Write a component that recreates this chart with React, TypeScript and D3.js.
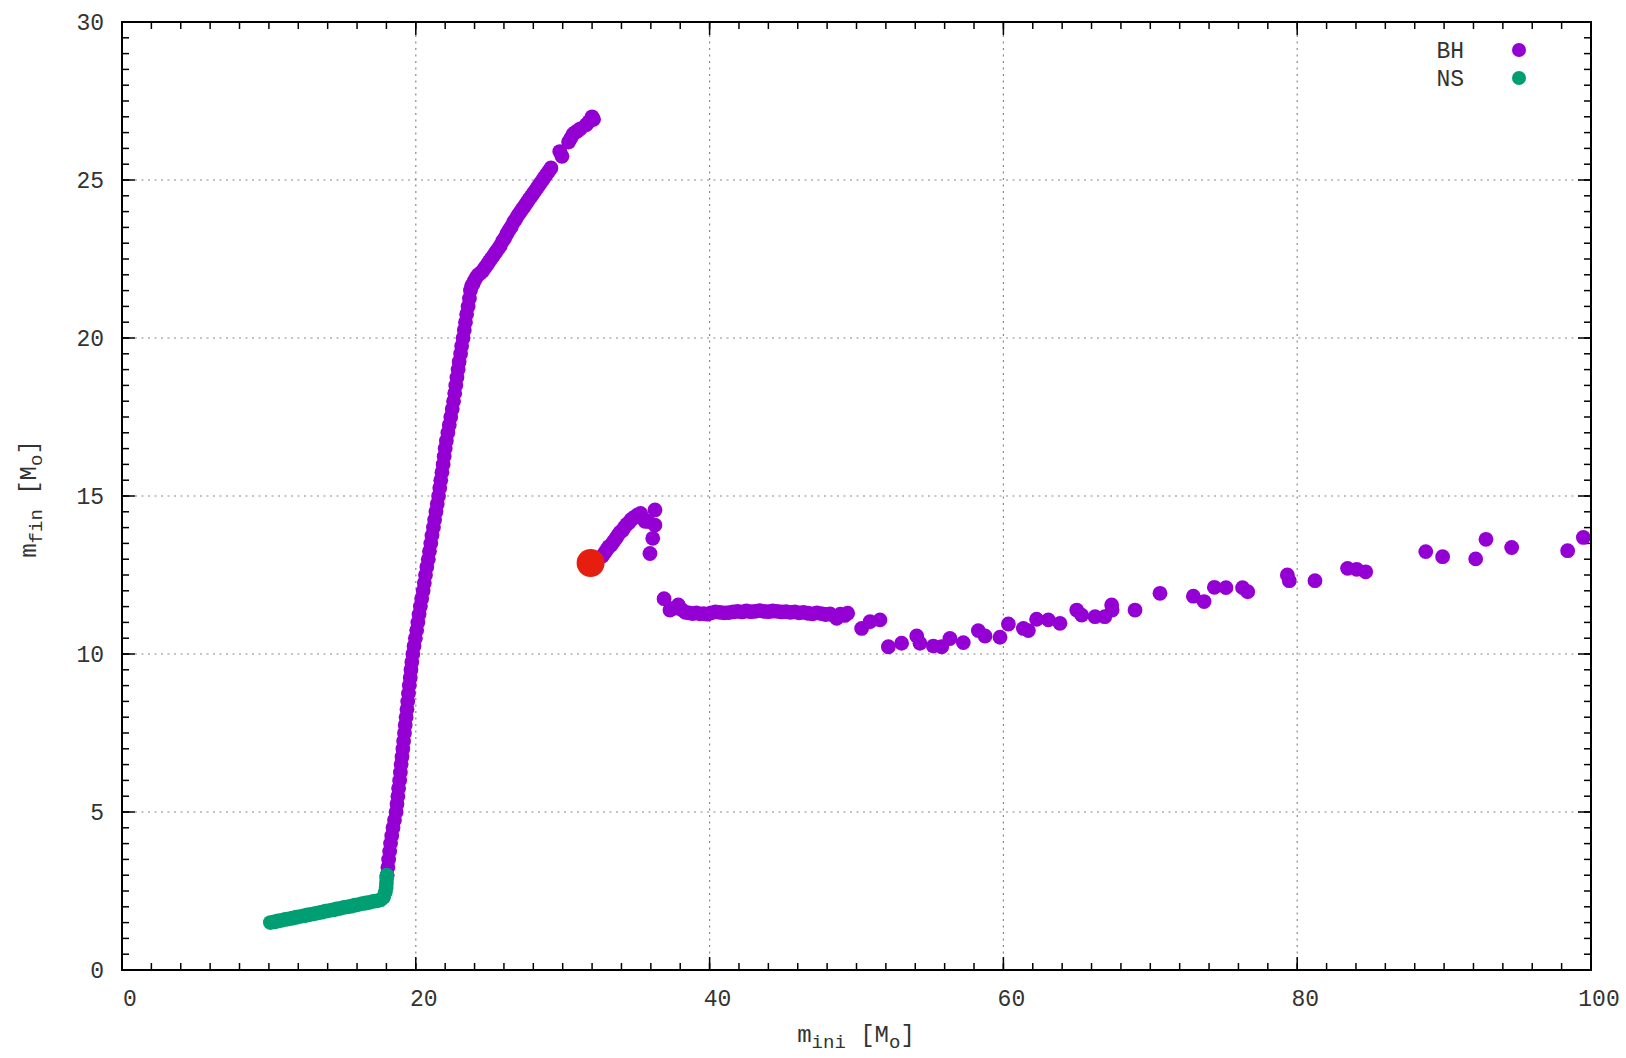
import React from 'react';
import * as d3 from 'd3';

const X_TICKS = [0, 20, 40, 60, 80, 100];
const Y_TICKS = [0, 5, 10, 15, 20, 25, 30];
const X_GRID = [20, 40, 60, 80];
const Y_GRID = [5, 10, 15, 20, 25];
const LEGEND_LABELS = ['BH', 'NS'];

const nsPoints: [number, number][] = [
  [10.1, 1.5], [10.35, 1.52], [10.6, 1.55], [10.85, 1.57], [11.1, 1.6], [11.35, 1.62], [11.6, 1.64],
  [11.85, 1.67], [12.1, 1.69], [12.35, 1.71], [12.6, 1.74], [12.85, 1.76], [13.1, 1.78], [13.35, 1.81],
  [13.6, 1.83], [13.85, 1.86], [14.1, 1.88], [14.35, 1.9], [14.6, 1.93], [14.85, 1.95], [15.1, 1.98],
  [15.35, 2.0], [15.6, 2.02], [15.85, 2.05], [16.1, 2.07], [16.35, 2.1], [16.6, 2.12], [16.85, 2.14],
  [17.1, 2.17], [17.35, 2.19], [17.6, 2.22], [17.8, 2.3], [17.92, 2.45], [17.98, 2.6], [18.0, 2.75],
  [18.02, 2.9], [18.03, 3.0],
];

const bhPoints: [number, number][] = [
  // steep rise
  [18.05, 3.0], [18.1, 3.25], [18.15, 3.5], [18.22, 3.75], [18.28, 4.0], [18.36, 4.25], [18.45, 4.5],
  [18.55, 4.75], [18.66, 5.0], [18.72, 5.25], [18.78, 5.5], [18.83, 5.75], [18.9, 6.0], [18.95, 6.25],
  [19.0, 6.5], [19.06, 6.75], [19.12, 7.0], [19.17, 7.25], [19.23, 7.5], [19.28, 7.75], [19.34, 8.0],
  [19.4, 8.25], [19.45, 8.5], [19.5, 8.75], [19.56, 9.0], [19.62, 9.25], [19.67, 9.5], [19.73, 9.75],
  [19.8, 10.0], [19.88, 10.25], [19.97, 10.5], [20.06, 10.75], [20.14, 11.0], [20.22, 11.25], [20.31, 11.5],
  [20.4, 11.75], [20.5, 12.0], [20.58, 12.25], [20.66, 12.5], [20.75, 12.75], [20.85, 13.0], [20.93, 13.25],
  [21.02, 13.5], [21.1, 13.75], [21.2, 14.0], [21.28, 14.25], [21.37, 14.5], [21.46, 14.75], [21.55, 15.0],
  [21.63, 15.25], [21.7, 15.5], [21.78, 15.75], [21.86, 16.0], [21.93, 16.25], [22.0, 16.5], [22.08, 16.75],
  [22.18, 17.0], [22.28, 17.25], [22.38, 17.5], [22.48, 17.75], [22.57, 18.0], [22.65, 18.25], [22.72, 18.5],
  [22.8, 18.75], [22.88, 19.0], [22.95, 19.25], [23.05, 19.5], [23.12, 19.75], [23.22, 20.0], [23.3, 20.25],
  [23.38, 20.5], [23.46, 20.75], [23.56, 21.0], [23.65, 21.25], [23.72, 21.5], [23.8, 21.65],
  // upper branch
  [23.9, 21.72], [24.0, 21.82], [24.12, 21.92], [24.25, 22.0], [24.4, 22.06], [24.55, 22.12], [24.7, 22.22],
  [24.85, 22.32], [25.0, 22.42], [25.15, 22.52], [25.3, 22.62], [25.45, 22.72], [25.6, 22.82], [25.75, 22.92],
  [25.9, 23.06], [26.05, 23.16], [26.2, 23.3], [26.35, 23.42], [26.5, 23.52], [26.65, 23.66], [26.8, 23.76],
  [26.95, 23.88], [27.1, 23.98], [27.25, 24.08], [27.4, 24.18], [27.55, 24.28], [27.7, 24.38], [27.85, 24.48],
  [28.0, 24.58], [28.15, 24.68], [28.3, 24.78], [28.45, 24.88], [28.6, 24.98], [28.75, 25.08], [28.9, 25.18],
  [29.05, 25.28], [29.2, 25.38],
  [29.8, 25.9], [29.95, 25.75],
  [30.4, 26.2], [30.55, 26.32], [30.7, 26.45], [30.85, 26.5], [31.0, 26.55], [31.2, 26.62], [31.6, 26.75],
  [31.8, 26.85], [32.0, 27.0], [32.1, 26.92],
  // branch near 33-36
  [32.7, 13.1], [32.85, 13.2], [33.0, 13.3], [33.15, 13.4], [33.3, 13.45], [33.45, 13.55], [33.6, 13.65],
  [33.75, 13.75], [33.9, 13.85], [34.05, 13.9], [34.2, 14.0], [34.35, 14.1], [34.5, 14.15], [34.65, 14.25],
  [34.8, 14.3], [34.95, 14.35], [35.1, 14.4], [35.3, 14.45], [35.45, 14.3], [35.6, 14.2], [35.83, 14.19],
  [36.28, 14.56], [36.28, 14.08], [36.13, 13.66], [35.94, 13.18],
  // plateau
  [36.9, 11.75], [37.3, 11.39], [37.6, 11.45], [37.87, 11.55], [38.1, 11.4], [38.35, 11.32], [38.6, 11.3],
  [38.85, 11.28], [39.1, 11.3], [39.35, 11.27], [39.6, 11.28], [39.85, 11.26], [40.1, 11.3], [40.4, 11.33],
  [40.7, 11.32], [41.0, 11.3], [41.3, 11.31], [41.6, 11.33], [41.9, 11.35], [42.2, 11.33], [42.5, 11.36],
  [42.8, 11.34], [43.1, 11.35], [43.4, 11.37], [43.7, 11.35], [44.0, 11.34], [44.3, 11.36], [44.6, 11.35],
  [44.9, 11.33], [45.2, 11.34], [45.5, 11.32], [45.8, 11.33], [46.1, 11.3], [46.4, 11.32], [46.7, 11.29],
  [47.0, 11.27], [47.3, 11.3], [47.6, 11.28], [47.9, 11.25], [48.2, 11.27], [48.5, 11.2], [48.65, 11.13],
  [48.9, 11.26], [49.2, 11.22], [49.4, 11.29],
  // scattered tail
  [50.35, 10.81], [50.92, 11.02], [51.6, 11.08], [52.17, 10.23], [53.07, 10.34], [54.1, 10.57], [54.32, 10.34],
  [55.23, 10.25], [55.8, 10.23], [56.36, 10.49], [57.27, 10.36], [58.29, 10.74], [58.75, 10.57], [59.77, 10.53],
  [60.34, 10.95], [61.36, 10.81], [61.7, 10.74], [62.26, 11.1], [63.06, 11.08], [63.85, 10.97], [64.99, 11.39],
  [65.33, 11.23], [66.24, 11.18], [66.9, 11.18], [67.37, 11.55], [67.4, 11.39], [68.96, 11.39], [70.66, 11.92],
  [72.93, 11.83], [73.66, 11.66], [74.36, 12.11], [75.15, 12.1], [76.28, 12.1], [76.63, 11.97], [79.33, 12.5],
  [79.46, 12.32], [81.21, 12.32], [83.43, 12.71], [84.05, 12.68], [84.66, 12.6], [88.75, 13.24], [89.9, 13.08],
  [92.15, 13.01], [92.85, 13.63], [94.6, 13.37], [98.41, 13.27], [99.48, 13.69],
];

const specialPoints: [number, number][] = [[31.9, 12.88]];

const FONT = "'Liberation Mono', 'Courier New', monospace";
const BH_COLOR = '#9400d3';
const NS_COLOR = '#009e73';
const RED = '#e51e10';

export default function App() {
  const W = 1626;
  const H = 1058;
  const L = 122, R = 1591, T = 22, B = 970;
  const x = d3.scaleLinear().domain([0, 100]).range([L, R]);
  const y = d3.scaleLinear().domain([0, 30]).range([B, T]);
  const xMinor = d3.range(0, 100.001, 2);
  const yMinor = d3.range(0, 30.001, 0.5);
  const major = 13;
  const minor = 7;
  const fs = 23;
  const pr = 7.4;

  return (
    <svg width={W} height={H} style={{ position: 'absolute', left: 0, top: 0, background: '#fff' }}
      fontFamily={FONT}>
      <rect x={0} y={0} width={W} height={H} fill="#fff" />
      {/* grid */}
      <g stroke="#8a8a8a" strokeWidth={1.2} strokeDasharray="2 4.5">
        {X_GRID.map(v => <line key={'gx' + v} x1={x(v)} x2={x(v)} y1={T} y2={B} />)}
        {Y_GRID.map(v => <line key={'gy' + v} x1={L} x2={R} y1={y(v)} y2={y(v)} />)}
      </g>
      {/* ticks */}
      <g stroke="#000" strokeWidth={1.5}>
        {xMinor.map(v => (
          <g key={'xm' + v}>
            <line x1={x(v)} x2={x(v)} y1={B} y2={B - minor} />
            <line x1={x(v)} x2={x(v)} y1={T} y2={T + minor} />
          </g>
        ))}
        {yMinor.map(v => (
          <g key={'ym' + v}>
            <line x1={L} x2={L + minor} y1={y(v)} y2={y(v)} />
            <line x1={R} x2={R - minor} y1={y(v)} y2={y(v)} />
          </g>
        ))}
        {X_TICKS.map(v => (
          <g key={'xM' + v}>
            <line x1={x(v)} x2={x(v)} y1={B} y2={B - major} />
            <line x1={x(v)} x2={x(v)} y1={T} y2={T + major} />
          </g>
        ))}
        {Y_TICKS.map(v => (
          <g key={'yM' + v}>
            <line x1={L} x2={L + major} y1={y(v)} y2={y(v)} />
            <line x1={R} x2={R - major} y1={y(v)} y2={y(v)} />
          </g>
        ))}
      </g>
      {/* data */}
      <g fill={BH_COLOR}>
        {bhPoints.map((p, i) => <circle key={'bh' + i} cx={x(p[0])} cy={y(p[1])} r={pr} />)}
      </g>
      <g fill={NS_COLOR}>
        {nsPoints.map((p, i) => <circle key={'ns' + i} cx={x(p[0])} cy={y(p[1])} r={pr} />)}
      </g>
      <g fill={RED}>
        {specialPoints.map((p, i) => <circle key={'sp' + i} cx={x(p[0])} cy={y(p[1])} r={14} />)}
      </g>
      {/* border */}
      <rect x={L} y={T} width={R - L} height={B - T} fill="none" stroke="#000" strokeWidth={2} />
      {/* tick labels */}
      <g fontSize={fs} fill="#333">
        {X_TICKS.map(v => (
          <text key={'xl' + v} x={x(v) + 8} y={1006} textAnchor="middle">{v}</text>
        ))}
        {Y_TICKS.map(v => (
          <text key={'yl' + v} x={104} y={y(v) + 8} textAnchor="end">{v}</text>
        ))}
      </g>
      {/* axis labels */}
      <text x={856} y={1042} textAnchor="middle" fontSize={fs + 1} fill="#333">
        <tspan>m</tspan>
        <tspan fontSize={19} dy={6}>ini</tspan>
        <tspan dy={-6}> [M</tspan>
        <tspan fontSize={19} dy={6}>o</tspan>
        <tspan dy={-6}>]</tspan>
      </text>
      <text transform="translate(36,499) rotate(-90)" textAnchor="middle" fontSize={fs + 1} fill="#333">
        <tspan>m</tspan>
        <tspan fontSize={19} dy={6}>fin</tspan>
        <tspan dy={-6}> [M</tspan>
        <tspan fontSize={19} dy={6}>o</tspan>
        <tspan dy={-6}>]</tspan>
      </text>
      {/* legend */}
      <g fontSize={fs} fill="#333">
        {LEGEND_LABELS.map((lab, i) => (
          <g key={lab}>
            <text x={1464} y={58 + i * 28} textAnchor="end">{lab}</text>
            <circle cx={1519} cy={50 + i * 28} r={7} fill={i === 0 ? BH_COLOR : NS_COLOR} />
          </g>
        ))}
      </g>
    </svg>
  );
}
